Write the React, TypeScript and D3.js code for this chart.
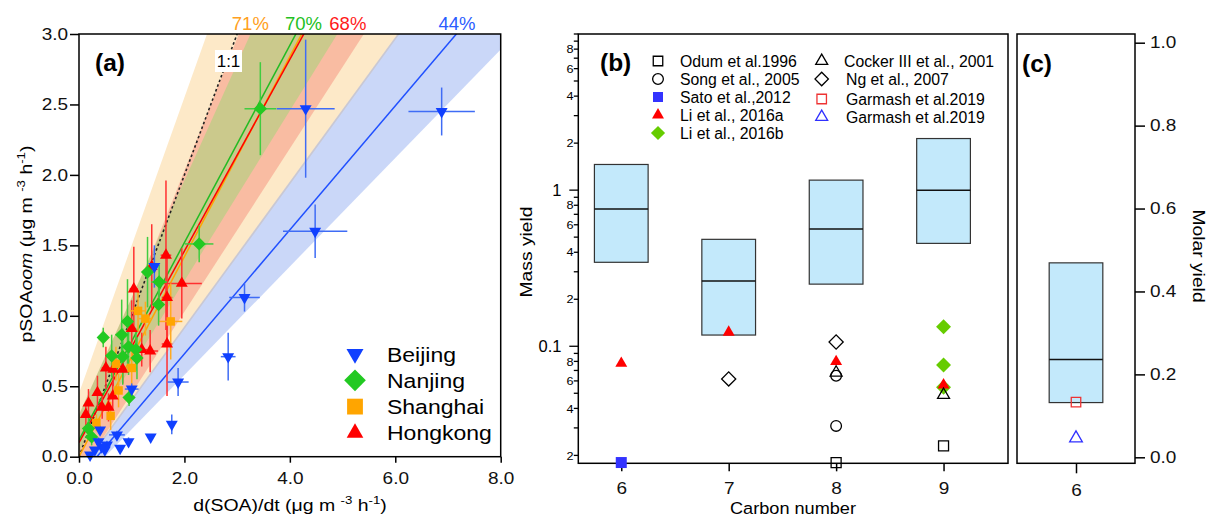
import * as d3 from "d3";
import { useEffect, useRef } from "react";

const FONT = "Arial, 'Liberation Sans', Helvetica, sans-serif";

// ---------- panel (a): [d(SOA)/dt, pSOAoom, x error, y error] ----------
const beijing = [
  [4.3, 2.47, 0.55, 0.49],
  [6.88, 2.45, 0.63, 0.17],
  [4.48, 1.6, 0.61, 0.19],
  [3.14, 1.13, 0.29, 0.1],
  [2.83, 0.71, 0.14, 0.17],
  [1.88, 0.53, 0.2, 0.1],
  [1.76, 0.23, 0.05, 0.07],
  [1.36, 0.14, 0.06, 0.02],
  [1.0, 0.48, 0.13, 0.04],
  [1.43, 1.35, 0.05, 0.15],
  [0.72, 0.155, 0.15, 0.03],
  [0.94, 0.107, 0.06, 0.03],
  [0.78, 0.06, 0.05, 0.02],
  [0.53, 0.083, 0.06, 0.03],
  [0.43, 0.07, 0.05, 0.02],
  [0.37, 0.107, 0.05, 0.03],
  [0.3, 0.048, 0.04, 0.02],
  [0.49, 0.048, 0.05, 0.02],
  [0.21, 0.012, 0.03, 0.01],
  [0.4, 0.19, 0.03, 0.03],
];
const nanjing = [
  [3.44, 2.47, 0.3, 0.33],
  [2.28, 1.51, 0.27, 0.13],
  [1.3, 1.31, 0.1, 0.25],
  [1.52, 1.24, 0.15, 0.12],
  [1.51, 1.08, 0.08, 0.15],
  [0.92, 0.96, 0.1, 0.3],
  [0.81, 0.865, 0.12, 0.25],
  [0.46, 0.846, 0.06, 0.07],
  [0.94, 0.78, 0.1, 0.2],
  [0.62, 0.716, 0.08, 0.15],
  [0.83, 0.71, 0.1, 0.2],
  [1.08, 0.76, 0.1, 0.15],
  [1.1, 0.7, 0.08, 0.15],
  [0.95, 0.42, 0.06, 0.06],
  [0.18, 0.2, 0.05, 0.08],
  [0.24, 0.14, 0.04, 0.06],
];
const shanghai = [
  [1.12, 1.035, 0.15, 0.15],
  [1.26, 0.98, 0.12, 0.12],
  [1.74, 0.96, 0.22, 0.27],
  [0.7, 0.66, 0.1, 0.12],
  [1.0, 0.63, 0.1, 0.15],
  [0.75, 0.47, 0.08, 0.12],
  [0.6, 0.29, 0.06, 0.1],
  [0.33, 0.24, 0.06, 0.06],
];
const hongkong = [
  [1.65, 1.43, 0.1, 0.53],
  [1.38, 1.35, 0.08, 0.3],
  [1.95, 1.23, 0.38, 0.25],
  [1.67, 1.13, 0.1, 0.3],
  [1.04, 1.19, 0.08, 0.3],
  [1.0, 0.91, 0.08, 0.2],
  [1.35, 0.75, 0.15, 0.15],
  [1.19, 0.76, 0.1, 0.12],
  [1.67, 0.8, 0.1, 0.37],
  [0.51, 0.63, 0.08, 0.15],
  [0.65, 0.62, 0.06, 0.12],
  [0.83, 0.62, 0.06, 0.1],
  [0.35, 0.455, 0.05, 0.12],
  [0.56, 0.35, 0.06, 0.1],
  [0.64, 0.43, 0.06, 0.1],
  [0.18, 0.38, 0.04, 0.1],
  [0.13, 0.3, 0.04, 0.08],
  [0.44, 0.35, 0.05, 0.08],
];

// fits, in order Shanghai, Hongkong, Nanjing, Beijing
const fitSlope = [0.71, 0.68, 0.7, 0.44];
const fitIntercept = [0.0, 0.1, 0.12, -0.15];
const fitLabel = ["71%", "68%", "70%", "44%"];
const fitLabelX = [3.25, 5.1, 4.26, 7.17];
// uncertainty bands: [intercept, slope] of upper and lower edge
const bandUpper = [[0.45, 1.05], [0.15, 0.94], [0.3, 0.83], [-0.1, 0.513]];
const bandLower = [[-0.12, 0.513], [-0.129, 0.579], [0.04, 0.604], [-0.19, 0.385]];

const cities = ["Beijing", "Nanjing", "Shanghai", "Hongkong"];

// ---------- panel (b): mass yield vs carbon number ----------
const carbon = [6, 7, 8, 9];
const yieldLow = [0.345, 0.118, 0.25, 0.456];
const yieldMedian = [0.756, 0.262, 0.563, 1.0];
const yieldHigh = [1.46, 0.484, 1.159, 2.14];

const odum = [[8, 0.018], [9, 0.023]];
const song = [[8, 0.0648], [8, 0.0309]];
const sato = [[6, 0.018]];
const li2016a = [[6, 0.0778], [7, 0.1229], [8, 0.0797], [9, 0.0565]];
const li2016b = [[9, 0.1335], [9, 0.0759], [9, 0.0547]];
const cocker = [[8, 0.0678], [9, 0.0488]];
const ng = [[7, 0.0618], [8, 0.1065]];

// ---------- panel (c): molar yield ----------
const molarCarbon = [6];
const molarLow = [0.132];
const molarMedian = [0.236];
const molarHigh = [0.469];
const garmashSquare = [[6, 0.133]];
const garmashTriangle = [[6, 0.046]];

const refs = [
  "Odum et al.1996",
  "Song et al., 2005",
  "Sato et al.,2012",
  "Li et al., 2016a",
  "Li et al., 2016b",
  "Cocker III et al., 2001",
  "Ng et al., 2007",
  "Garmash et al.2019",
  "Garmash et al.2019",
];

function addText(g, x, y, str, o: any = {}) {
  return g
    .append("text")
    .attr("transform", `translate(${x},${y}) rotate(${o.rotate || 0}) scale(${o.sx || 1},1)`)
    .attr("font-family", FONT)
    .attr("font-size", o.size || 16.5)
    .attr("font-weight", o.weight || "normal")
    .attr("text-anchor", o.anchor || "start")
    .attr("fill", o.color || "#000")
    .text(str);
}

function richText(g, x, y, parts, o: any = {}) {
  const t = addText(g, x, y, "", o);
  const size = o.size || 16.5;
  let raised = false;
  parts.forEach((p) => {
    const s = t.append("tspan").text(p.t);
    if (p.italic) s.attr("font-style", "italic");
    if (p.sup) {
      s.attr("font-size", size * 0.68);
      if (!raised) s.attr("dy", -7);
      raised = true;
    } else if (raised) {
      s.attr("dy", 7);
      raised = false;
    }
  });
}

function marker(g, kind, x, y, size, fill, stroke, sw = 1.3) {
  const type =
    kind === "circle" ? d3.symbolCircle : kind === "square" || kind === "diamond" ? d3.symbolSquare : d3.symbolTriangle;
  const rot = kind === "diamond" ? 45 : kind === "down" ? 180 : 0;
  g.append("path")
    .attr("d", d3.symbol(type, size)())
    .attr("transform", `translate(${x},${y}) rotate(${rot})`)
    .attr("fill", fill)
    .attr("stroke", stroke)
    .attr("stroke-width", sw);
}

const App = () => {
  const ref = useRef(null);

  useEffect(() => {
    const svg = d3.select(ref.current);
    svg.selectAll("*").remove();

    // ================= panel (a) =================
    const xA = d3.scaleLinear().domain([0, 8]).range([79, 500.7]);
    const yA = d3.scaleLinear().domain([0, 3]).range([456.7, 34]);
    const gA = svg.append("g");

    svg
      .append("defs")
      .append("clipPath")
      .attr("id", "clipA")
      .append("rect")
      .attr("x", 79)
      .attr("y", 34)
      .attr("width", 421.7)
      .attr("height", 422.7);

    const plotA = gA.append("g").attr("clip-path", "url(#clipA)");
    const bandFill = ["#fde9c8", "#f9bca2", "#cbc98c", "rgba(104,141,235,0.35)"];
    const lineColor = ["#ffa500", "#ff0000", "#22bb22", "#2050ff"];
    const labelColor = ["#ffa020", "#ff1a1a", "#22c022", "#2a5cff"];

    bandUpper.forEach((u, i) => {
      const l = bandLower[i];
      const pts = [
        [0, u[0]],
        [8, u[0] + u[1] * 8],
        [8, l[0] + l[1] * 8],
        [0, l[0]],
      ];
      plotA
        .append("path")
        .attr("d", d3.line()(pts.map((p) => [xA(p[0]), yA(p[1])])) + "Z")
        .attr("fill", bandFill[i]);
    });

    // 1:1 line
    plotA
      .append("line")
      .attr("x1", xA(0))
      .attr("y1", yA(0))
      .attr("x2", xA(3))
      .attr("y2", yA(3))
      .attr("stroke", "#222")
      .attr("stroke-width", 1.6)
      .attr("stroke-dasharray", "2.5,2.5");

    fitSlope.forEach((b, i) => {
      const a = fitIntercept[i];
      plotA
        .append("line")
        .attr("x1", xA(0))
        .attr("y1", yA(a))
        .attr("x2", xA(8))
        .attr("y2", yA(a + b * 8))
        .attr("stroke", lineColor[i])
        .attr("stroke-width", 1.5);
      addText(gA, xA(fitLabelX[i]), 30, fitLabel[i], { size: 18.5, anchor: "middle", color: labelColor[i] });
    });

    // 1:1 label
    gA.append("rect").attr("x", 215).attr("y", 50).attr("width", 27).attr("height", 22).attr("fill", "#fff");
    addText(gA, 228.5, 67, "1:1", { size: 17, anchor: "middle" });

    const series = [
      { data: hongkong, kind: "triangle", color: "#ff0000", err: "#ff3030", size: 62 },
      { data: shanghai, kind: "square", color: "#ffa500", err: "#ffaa20", size: 72 },
      { data: nanjing, kind: "diamond", color: "#22c922", err: "#40cc40", size: 88 },
      { data: beijing, kind: "down", color: "#1040ff", err: "#3f6cf5", size: 62 },
    ];
    series.forEach((s) => {
      s.data.forEach((d) => {
        gA.append("line")
          .attr("x1", xA(d[0] - d[2]))
          .attr("x2", xA(d[0] + d[2]))
          .attr("y1", yA(d[1]))
          .attr("y2", yA(d[1]))
          .attr("stroke", s.err)
          .attr("stroke-width", 1.5);
        gA.append("line")
          .attr("x1", xA(d[0]))
          .attr("x2", xA(d[0]))
          .attr("y1", yA(d[1] - d[3]))
          .attr("y2", yA(d[1] + d[3]))
          .attr("stroke", s.err)
          .attr("stroke-width", 1.5);
      });
    });
    series.forEach((s) => {
      s.data.forEach((d) => marker(gA, s.kind, xA(d[0]), yA(d[1]), s.size, s.color, "none"));
    });

    // frame + axes
    gA.append("rect")
      .attr("x", 79)
      .attr("y", 34)
      .attr("width", 421.7)
      .attr("height", 422.7)
      .attr("fill", "none")
      .attr("stroke", "#000")
      .attr("stroke-width", 1.5);

    const axYA = gA
      .append("g")
      .attr("transform", `translate(${xA(0)},0)`)
      .call(d3.axisLeft(yA).tickValues([0, 0.5, 1, 1.5, 2, 2.5, 3]).tickSize(9).tickPadding(0.5).tickFormat(d3.format(".1f")));
    axYA.select(".domain").remove();
    axYA.attr("font-family", FONT).attr("font-size", 16.5);
    axYA.selectAll("line").attr("stroke", "#000").attr("stroke-width", 1.5);
    axYA.selectAll("text").attr("transform", "scale(1.15,1)").attr("fill", "#111");

    const axXA = gA
      .append("g")
      .attr("transform", `translate(0,${yA(0)})`)
      .call(d3.axisBottom(xA).tickValues([0, 2, 4, 6, 8]).tickSize(6).tickPadding(10).tickFormat(d3.format(".1f")));
    axXA.select(".domain").remove();
    axXA.attr("font-family", FONT).attr("font-size", 16.5);
    axXA.selectAll("line").attr("stroke", "#000").attr("stroke-width", 1.5);
    axXA.selectAll("text").attr("transform", "scale(1.15,1)").attr("fill", "#111");

    richText(
      gA,
      290,
      511,
      [{ t: "d(SOA)/dt (μg m " }, { t: "-3", sup: true }, { t: " h" }, { t: "-1", sup: true }, { t: ")" }],
      { size: 16.5, anchor: "middle", sx: 1.18 }
    );
    richText(
      gA,
      32,
      244,
      [
        { t: "pSOA" },
        { t: "oom", italic: true },
        { t: " (μg m " },
        { t: "-3", sup: true },
        { t: " h" },
        { t: "-1", sup: true },
        { t: ")" },
      ],
      { size: 16.5, anchor: "middle", sx: 1.18, rotate: -90 }
    );

    addText(gA, 95, 71, "(a)", { size: 24.5, weight: "bold" });

    // legend (a)
    const legKinds = ["down", "diamond", "square", "triangle"];
    const legColors = ["#1040ff", "#22c922", "#ffa500", "#ff0000"];
    const legSizes = [125, 235, 250, 120];
    cities.forEach((c, i) => {
      const cy = 354 + i * 26.3;
      marker(gA, legKinds[i], 355, cy, legSizes[i], legColors[i], "none");
      addText(gA, 387, cy + 7.5, c, { size: 19.5, sx: 1.18 });
    });

    // ================= panel (b) =================
    const xB = d3.scaleLinear().domain([5.6, 9.6]).range([578.3, 1008]);
    const yB = d3.scaleLog().domain([0.0178, 10]).range([463.3, 34]);
    const gB = svg.append("g");

    carbon.forEach((c, i) => {
      gB.append("rect")
        .attr("x", xB(c - 0.25))
        .attr("y", yB(yieldHigh[i]))
        .attr("width", xB(c + 0.25) - xB(c - 0.25))
        .attr("height", yB(yieldLow[i]) - yB(yieldHigh[i]))
        .attr("fill", "#c3e9fb")
        .attr("stroke", "#333")
        .attr("stroke-width", 1.2);
      gB.append("line")
        .attr("x1", xB(c - 0.25))
        .attr("x2", xB(c + 0.25))
        .attr("y1", yB(yieldMedian[i]))
        .attr("y2", yB(yieldMedian[i]))
        .attr("stroke", "#111")
        .attr("stroke-width", 1.5);
    });

    gB.append("rect")
      .attr("x", 578.3)
      .attr("y", 34)
      .attr("width", 429.7)
      .attr("height", 429.3)
      .attr("fill", "none")
      .attr("stroke", "#000")
      .attr("stroke-width", 1.5);

    // log axis ticks
    const logTicks = [];
    [0.01, 0.1, 1].forEach((dec) => {
      for (let m = 1; m <= 9; m++) {
        const v = m * dec;
        if (v >= 0.0178 && v <= 10) logTicks.push({ v, m, dec });
      }
    });
    logTicks.push({ v: 10, m: 1, dec: 10 });
    logTicks.forEach((t) => {
      const major = t.m === 1 && t.dec < 10;
      const y = yB(t.v);
      gB.append("line")
        .attr("x1", 578.3 - (major ? 9 : 4.5))
        .attr("x2", 578.3)
        .attr("y1", y)
        .attr("y2", y)
        .attr("stroke", "#000")
        .attr("stroke-width", 1.3);
      if (major) {
        addText(gB, 561.5, y + 6, t.dec === 0.1 ? "0.1" : "1", { size: 16.5, anchor: "end" });
      } else if (t.m % 2 === 0 && t.dec < 10) {
        addText(gB, 573.5, y + 4.2, String(t.m), { size: 11.5, anchor: "end", sx: 1.1 });
      }
    });

    const axXB = gB
      .append("g")
      .attr("transform", `translate(0,463.3)`)
      .call(d3.axisBottom(xB).tickValues(carbon).tickSize(8).tickPadding(11).tickFormat(d3.format("d")));
    axXB.select(".domain").remove();
    axXB.attr("font-family", FONT).attr("font-size", 16.5);
    axXB.selectAll("line").attr("stroke", "#000").attr("stroke-width", 1.5);
    axXB.selectAll("text").attr("transform", "scale(1.15,1)").attr("fill", "#111");

    addText(gB, 793, 514, "Carbon number", { size: 16.5, anchor: "middle", sx: 1.1 });
    addText(gB, 532, 252, "Mass yield", { size: 16.5, anchor: "middle", sx: 1.17, rotate: -90 });
    addText(gB, 600, 71, "(b)", { size: 24.5, weight: "bold" });

    const bPoints = [
      { data: li2016b, kind: "diamond", fill: "#66cc00", stroke: "none", size: 112 },
      { data: li2016a, kind: "triangle", fill: "#ff0000", stroke: "none", size: 62 },
      { data: sato, kind: "square", fill: "#3333ff", stroke: "none", size: 121 },
      { data: ng, kind: "diamond", fill: "none", stroke: "#000", size: 100 },
      { data: song, kind: "circle", fill: "none", stroke: "#000", size: 90 },
      { data: cocker, kind: "triangle", fill: "none", stroke: "#000", size: 62 },
      { data: odum, kind: "square", fill: "none", stroke: "#000", size: 100 },
    ];
    bPoints.forEach((s) => s.data.forEach((d) => marker(gB, s.kind, xB(d[0]), yB(d[1]), s.size, s.fill, s.stroke)));

    // legend (b)
    const legB = [
      { kind: "square", fill: "none", stroke: "#000", size: 90 },
      { kind: "circle", fill: "none", stroke: "#000", size: 90 },
      { kind: "square", fill: "#3333ff", stroke: "none", size: 100 },
      { kind: "triangle", fill: "#ff0000", stroke: "none", size: 62 },
      { kind: "diamond", fill: "#66cc00", stroke: "none", size: 100 },
      { kind: "triangle", fill: "none", stroke: "#000", size: 62 },
      { kind: "diamond", fill: "none", stroke: "#000", size: 90 },
      { kind: "square", fill: "none", stroke: "#ee3333", size: 90 },
      { kind: "triangle", fill: "none", stroke: "#3030ff", size: 62 },
    ];
    const legBX = [658, 658, 658, 658, 658, 821.7, 821.7, 821.7, 821.7];
    const legBY = [61, 79, 97, 115, 133, 61, 79, 99, 117];
    const legBTx = [680, 680, 680, 680, 680, 844, 846, 846, 846];
    refs.forEach((r, i) => {
      const s = legB[i];
      marker(gB, s.kind, legBX[i], legBY[i], s.size, s.fill, s.stroke);
      addText(gB, legBTx[i], legBY[i] + 5.7, r, { size: 15.8 });
    });

    // ================= panel (c) =================
    const xC = d3.scaleLinear().domain([5.45, 6.55]).range([1017, 1135]);
    const yC = d3.scaleLinear().domain([0, 1]).range([457.3, 42.7]);
    const gC = svg.append("g");

    molarCarbon.forEach((c, i) => {
      gC.append("rect")
        .attr("x", xC(c - 0.25))
        .attr("y", yC(molarHigh[i]))
        .attr("width", xC(c + 0.25) - xC(c - 0.25))
        .attr("height", yC(molarLow[i]) - yC(molarHigh[i]))
        .attr("fill", "#c3e9fb")
        .attr("stroke", "#333")
        .attr("stroke-width", 1.2);
      gC.append("line")
        .attr("x1", xC(c - 0.25))
        .attr("x2", xC(c + 0.25))
        .attr("y1", yC(molarMedian[i]))
        .attr("y2", yC(molarMedian[i]))
        .attr("stroke", "#111")
        .attr("stroke-width", 1.5);
    });
    garmashSquare.forEach((d) => marker(gC, "square", xC(d[0]), yC(d[1]), 90, "none", "#ee3333"));
    garmashTriangle.forEach((d) => marker(gC, "triangle", xC(d[0]), yC(d[1]), 70, "none", "#3030ff"));

    gC.append("rect")
      .attr("x", 1017)
      .attr("y", 34)
      .attr("width", 118)
      .attr("height", 429.3)
      .attr("fill", "none")
      .attr("stroke", "#000")
      .attr("stroke-width", 1.5);

    const axYC = gC
      .append("g")
      .attr("transform", `translate(1135,0)`)
      .call(d3.axisRight(yC).tickValues([0, 0.2, 0.4, 0.6, 0.8, 1]).tickSize(10).tickPadding(3).tickFormat(d3.format(".1f")));
    axYC.select(".domain").remove();
    axYC.attr("font-family", FONT).attr("font-size", 16.5);
    axYC.selectAll("line").attr("stroke", "#000").attr("stroke-width", 1.5);
    axYC.selectAll("text").attr("transform", "scale(1.15,1)").attr("fill", "#111");

    const axXC = gC
      .append("g")
      .attr("transform", `translate(0,463.3)`)
      .call(d3.axisBottom(xC).tickValues(molarCarbon).tickSize(10).tickPadding(11).tickFormat(d3.format("d")));
    axXC.select(".domain").remove();
    axXC.attr("font-family", FONT).attr("font-size", 16.5);
    axXC.selectAll("line").attr("stroke", "#000").attr("stroke-width", 1.5);
    axXC.selectAll("text").attr("transform", "scale(1.15,1)").attr("fill", "#111");

    addText(gC, 1193, 256, "Molar yield", { size: 16.5, anchor: "middle", sx: 1.17, rotate: 90 });
    addText(gC, 1022, 72, "(c)", { size: 24.5, weight: "bold" });
  }, []);

  return (
    <svg
      ref={ref}
      width="1211"
      height="518"
      style={{ position: "absolute", left: 0, top: 0, background: "#fff" }}
    ></svg>
  );
};

export default App;
